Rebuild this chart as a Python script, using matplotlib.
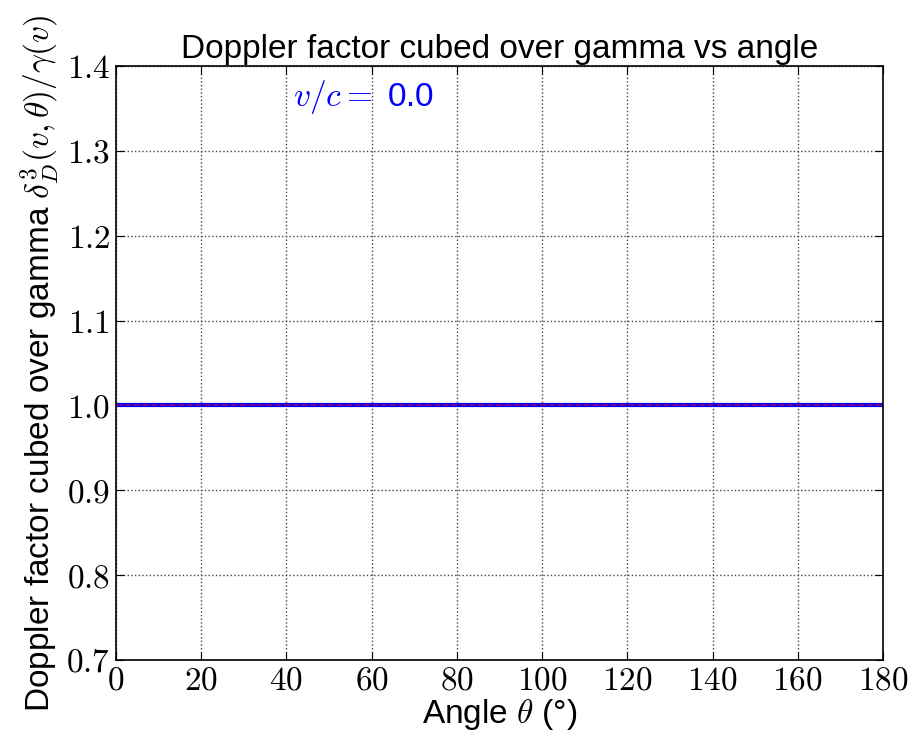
import matplotlib
matplotlib.use('Agg')
import matplotlib.pyplot as plt
from matplotlib.ticker import FuncFormatter

# data
angles = [0, 20, 40, 60, 80, 100, 120, 140, 160, 180]
doppler_ratio = [1.0, 1.0, 1.0, 1.0, 1.0, 1.0, 1.0, 1.0, 1.0, 1.0]
reference_ratio = [1.0, 1.0, 1.0, 1.0, 1.0, 1.0, 1.0, 1.0, 1.0, 1.0]
speed = 0.0

plt.rcParams['font.family'] = ['Liberation Sans', 'DejaVu Sans']
plt.rcParams['mathtext.fontset'] = 'cm'

fig = plt.figure(figsize=(9.21, 7.3), dpi=100)
fig.patch.set_facecolor('white')
ax = fig.add_axes([116 / 921, 70 / 730, 767 / 921, 594 / 730])

ax.plot(angles, doppler_ratio, color='blue', lw=3)
ax.plot(angles, reference_ratio, color='red', lw=1.2, ls='--', alpha=0.6)

ax.set_xlim(0, 180)
ax.set_ylim(0.7, 1.4)
ax.set_xticks(range(0, 181, 20))
ax.set_yticks([0.7 + 0.1 * i for i in range(8)])
ax.xaxis.set_major_formatter(FuncFormatter(lambda v, p: r'$%d$' % v))
ax.yaxis.set_major_formatter(FuncFormatter(lambda v, p: r'$%.1f$' % v))
ax.tick_params(direction='in', labelsize=24, length=6, top=True, right=True, pad=4)
for s in ax.spines.values():
    s.set_linewidth(1.2)
ax.grid(True, color='#444444', ls=':', lw=1)

ax.set_title('Doppler factor cubed over gamma vs angle', fontsize=24, pad=6)
ax.set_xlabel(r'Angle $\theta$ (°)', fontsize=24, labelpad=0)
ax.set_ylabel(r'Doppler factor cubed over gamma $\delta_D^3(v,\theta)/\gamma(v)$',
              fontsize=24, labelpad=4)

ax.text(41.5, 1.363, r'$v/c=$' + ' %.1f' % speed, color='blue', fontsize=24,
        va='center')

fig.savefig('out.png', dpi=100, facecolor='white')
